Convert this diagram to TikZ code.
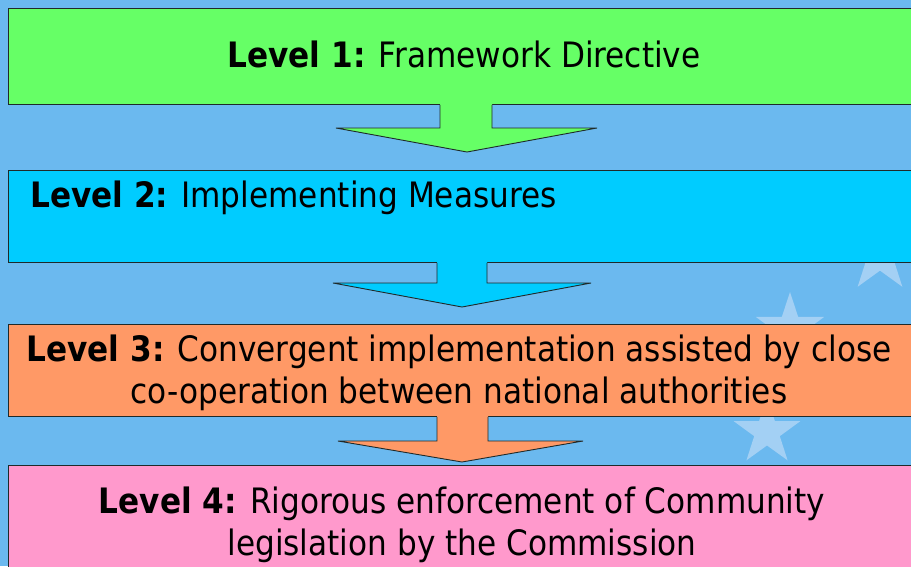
\documentclass[tikz,border=0pt]{standalone}
\usepackage{fontspec}
\setmainfont{DejaVu Sans}[FakeStretch=0.89]
\usetikzlibrary{shapes.geometric,calc}
\definecolor{skyback}{HTML}{6BB9EF}
\definecolor{starblue}{HTML}{A3D0F4}
\definecolor{lvlgreen}{HTML}{66FF66}
\definecolor{lvlcyan}{HTML}{00CCFF}
\definecolor{lvlorange}{HTML}{FF9966}
\definecolor{lvlpink}{HTML}{FF99CC}
\definecolor{edge}{HTML}{1F2A2A}
\tikzset{
  levelbox/.style={draw=edge, line width=0.9pt, rectangle, inner sep=0pt,
    minimum width=915pt, anchor=north west},
  leveltext/.style={inner sep=0pt, text=black, font=\fontsize{35}{41.5}\selectfont},
  flagstar/.style={star, star points=5, star point ratio=2.6, fill=starblue,
    draw=none, inner sep=0pt},
  blockedge/.style={draw=edge, line width=0.9pt, line join=miter},
}
\begin{document}
\begin{tikzpicture}[x=1pt,y=-1pt]
  % background
  \fill[skyback] (0,0) rectangle (911,566);
  \useasboundingbox (0,0) rectangle (911,566);

  % faint stars behind the boxes
  \node[flagstar, minimum size=76pt] (s1) at (880,256) {};
  \node[flagstar, minimum size=72pt] (s2) at (790,328) {};
  \node[flagstar, minimum size=70pt] (s3) at (767,432) {};

  % the four level boxes
  \node[levelbox, fill=lvlgreen,  minimum height=96pt] (b1) at (8,8) {};
  \node[levelbox, fill=lvlcyan,   minimum height=92pt] (b2) at (8,170) {};
  \node[levelbox, fill=lvlorange, minimum height=92pt] (b3) at (8,324) {};
  \node[levelbox, fill=lvlpink,   minimum height=120pt] (b4) at (8,465) {};

  % block arrow from box 1 down to box 2
  \coordinate (a1l) at ($(b1.south west)+(432,0)$);
  \coordinate (a1r) at ($(b1.south west)+(484,0)$);
  \fill[lvlgreen] ($(a1l)+(0,-1)$) -- (440,128) -- (336,128) -- (467,152)
    -- (597,128) -- (492,128) -- ($(a1r)+(0,-1)$) -- cycle;
  \draw[blockedge] (a1l) -- (440,128) -- (336,128)
    -- (467,152) -- (597,128) -- (492,128) -- (a1r);
  % block arrow from box 2 down to box 3
  \coordinate (a2l) at ($(b2.south west)+(429,0)$);
  \coordinate (a2r) at ($(b2.south west)+(479,0)$);
  \fill[lvlcyan] ($(a2l)+(0,-1)$) -- (437,283) -- (333,283) -- (462,307)
    -- (591,283) -- (487,283) -- ($(a2r)+(0,-1)$) -- cycle;
  \draw[blockedge] (a2l) -- (437,283) -- (333,283)
    -- (462,307) -- (591,283) -- (487,283) -- (a2r);
  % block arrow from box 3 down to box 4
  \coordinate (a3l) at ($(b3.south west)+(429,0)$);
  \coordinate (a3r) at ($(b3.south west)+(480,0)$);
  \fill[lvlorange] ($(a3l)+(0,-1)$) -- (437,441) -- (338,441) -- (462,462)
    -- (583,441) -- (488,441) -- ($(a3r)+(0,-1)$) -- cycle;
  \draw[blockedge] (a3l) -- (437,441) -- (338,441)
    -- (462,462) -- (583,441) -- (488,441) -- (a3r);

  % texts (base anchor sits on the last line)
  \node[leveltext, anchor=base] (t1) at (464,67)
    {\textbf{Level 1:} Framework Directive};
  \node[leveltext, anchor=base west] (t2) at (30,207)
    {\textbf{Level 2:} Implementing Measures};
  \node[leveltext, anchor=base, align=center] (t3) at (459,403)
    {\textbf{Level 3:} Convergent implementation assisted by close\\
     co-operation between national authorities};
  \node[leveltext, anchor=base, align=center] (t4) at (462,555)
    {\textbf{Level 4:} Rigorous enforcement of Community\\
     legislation by the Commission};
\end{tikzpicture}
\end{document}
